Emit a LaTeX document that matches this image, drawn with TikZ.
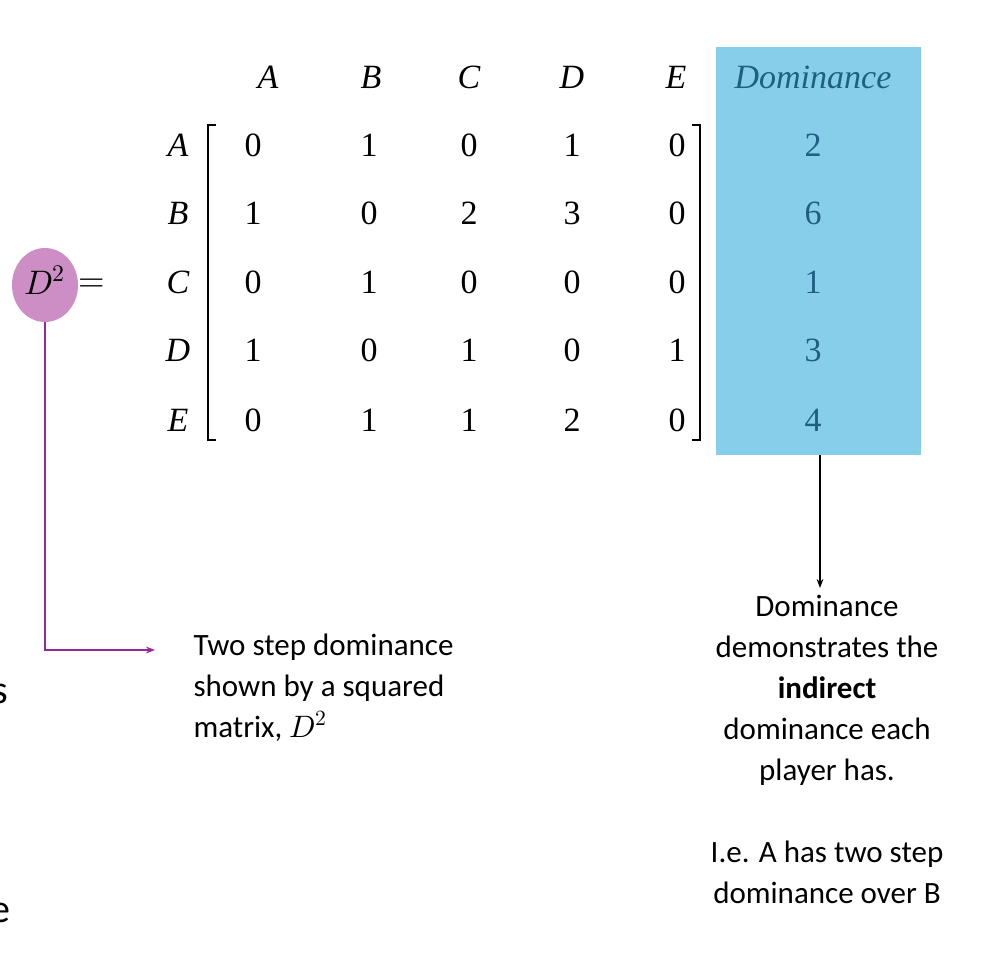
\documentclass[tikz,border=0pt]{standalone}
\usepackage{fontspec}
\setmainfont{Liberation Serif}
\newfontfamily\sansx{Carlito}
\usepackage{unicode-math}
\usetikzlibrary{shapes.geometric,arrows.meta}
\begin{document}
\begin{tikzpicture}[x=1pt,y=-1pt,
  mat/.style={font=\fontsize{34}{34}\selectfont},
  lab/.style={font=\fontsize{34}{34}\selectfont\itshape},
  dom/.style={font=\fontsize{34}{34}\selectfont,text=domtext},
  txt/.style={font=\sansx\fontsize{31}{41}\selectfont,align=center}]
\definecolor{blueband}{RGB}{135,206,235}
\definecolor{domtext}{RGB}{30,95,130}
\definecolor{pink}{RGB}{205,142,198}
\definecolor{purp}{RGB}{150,40,150}
\useasboundingbox (0,0) rectangle (988,957);
\clip (0,0) rectangle (988,957);
\fill[blueband] (716,47) rectangle (921,455);
\node[dom,font=\fontsize{34}{34}\selectfont\itshape] (hdom) at (813,77) {Dominance};
\foreach \n/\x in {A/268,B/371,C/469,D/572,E/676}{\node[lab] (h\n) at (\x,77) {\n};}
\foreach \n/\y/\a/\b/\c/\d/\e/\s in {A/145/0/1/0/1/0/2,B/213/1/0/2/3/0/6,C/282/0/1/0/0/0/1,D/350/1/0/1/0/1/3,E/420/0/1/1/2/0/4}{
  \node[lab] (r\n) at (178,\y) {\n};
  \node[mat] at (253,\y) {\a};
  \node[mat] at (369,\y) {\b};
  \node[mat] at (469,\y) {\c};
  \node[mat] at (572,\y) {\d};
  \node[mat] at (677,\y) {\e};
  \node[dom] (s\n) at (813,\y) {\s};
}
\draw[line width=1.6] (216,125) -- (208,125) -- (208,440) -- (216,440);
\draw[line width=1.6] (692,125) -- (700,125) -- (700,440) -- (692,440);
\node[ellipse,fill=pink,minimum width=66,minimum height=74,inner sep=0] (d2) at (45,285) {};
\node[font=\fontsize{34}{34}\selectfont] at (45,280) {$D^2$};
\node[mat] at (92,285) {$=$};
\coordinate (bend) at (45,650);
\node[txt,anchor=north west,align=left] (left) at (190,630) {Two step dominance\\shown by a squared\\matrix, $D^2$};
\draw[purp,line width=1.5,-{Stealth[length=9pt]}] (d2.south) -- (bend) -- (155,650);
\node[txt,anchor=north] (right) at (827,592) {Dominance\\demonstrates the\\\textbf{indirect}\\dominance each\\player has.\\[41pt]I.e. A has two step\\dominance over B};
\draw[line width=1.5,-{Stealth[length=9pt]}] (820,455) -- (820,588);
\node[font=\sansx\fontsize{40}{40}\selectfont,anchor=base] at (0,703) {s};
\node[font=\sansx\fontsize{40}{40}\selectfont,anchor=base] at (0,922) {e};
\end{tikzpicture}
\end{document}
